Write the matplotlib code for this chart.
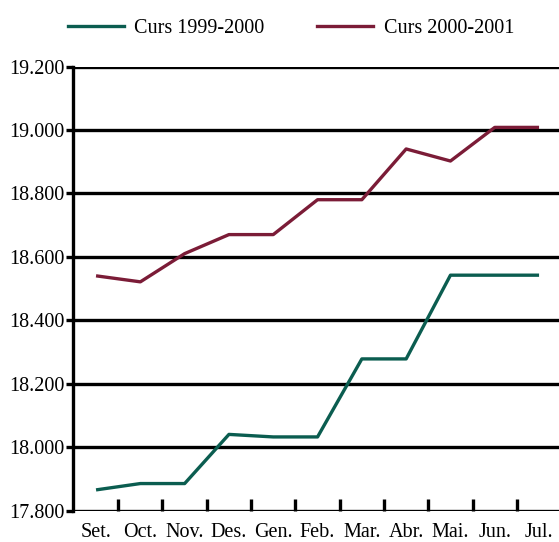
import matplotlib.pyplot as plt
from matplotlib.ticker import FuncFormatter, FixedLocator
from matplotlib.lines import Line2D

mesos = ["Set.", "Oct.", "Nov.", "Des.", "Gen.", "Feb.", "Mar.", "Abr.", "Mai.", "Jun.", "Jul."]
curs_1999 = [17865, 17885, 17885, 18040, 18032, 18032, 18278, 18278, 18542, 18542, 18542]
curs_2000 = [18540, 18521, 18610, 18670, 18670, 18780, 18780, 18940, 18902, 19008, 19008]
y_ticks = [17800, 18000, 18200, 18400, 18600, 18800, 19000, 19200]

plt.rcParams['font.family'] = ['Liberation Serif', 'DejaVu Serif']

fig = plt.figure(figsize=(5.59, 5.42), dpi=100)
ax = fig.add_axes([0.1306, 0.0581, 0.8694, 0.8192])

verd = '#0b5d50'
granat = '#7b1c37'
x = list(range(len(mesos)))

# linies de la graella
for v in y_ticks:
    ax.axhline(v, color='black', lw=2.4, zorder=1, solid_capstyle='butt')

ax.plot(x, curs_1999, color=verd, lw=2.4, zorder=3, solid_capstyle='butt')
ax.plot(x, curs_2000, color=granat, lw=2.4, zorder=3, solid_capstyle='butt')

ax.set_xlim(-0.52, 10.45)
ax.set_ylim(17800, 19200)

for s in ['top', 'right', 'bottom']:
    ax.spines[s].set_visible(False)
ax.spines['left'].set_linewidth(2.4)
ax.spines['left'].set_zorder(4)

ax.set_yticks(y_ticks)
ax.yaxis.set_major_formatter(FuncFormatter(lambda v, p: f"{int(v):,}".replace(",", ".")))
ax.tick_params(axis='y', length=5, width=2.4, labelsize=14.5, pad=1)

ax.set_xticks(x)
ax.set_xticklabels(mesos)
ax.xaxis.set_minor_locator(FixedLocator([i + 0.5 for i in range(len(mesos) - 1)]))
ax.tick_params(axis='x', which='major', length=0, labelsize=14.5, pad=9)
ax.tick_params(axis='x', which='minor', direction='in', length=9, width=2.4)

# llegenda a dalt
handles = [Line2D([], [], color=verd, lw=2.4), Line2D([], [], color=granat, lw=2.4)]
fig.legend(handles, ["Curs 1999-2000", "Curs 2000-2001"], loc='center left',
           bbox_to_anchor=(0.1216, 0.948), ncol=2, frameon=False, fontsize=14.5,
           handlelength=2.8, columnspacing=2.6, handletextpad=0.5,
           borderpad=0, borderaxespad=0)

fig.savefig("out.png", dpi=100)
